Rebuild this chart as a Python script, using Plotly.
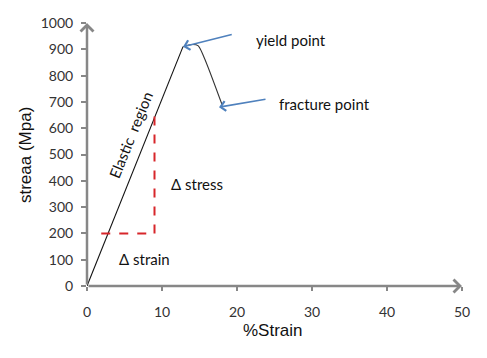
import plotly.graph_objects as go

# Data
elastic_x = [0, 12.8]
elastic_y = [0, 910]
plastic_x = [12.8, 14.0, 14.8, 15.6, 18.0]
plastic_y = [910, 918, 914, 870, 690]
dstrain_x = [1.9, 9.0]
dstrain_y = [200, 200]
dstress_x = [9.0, 9.0]
dstress_y = [200, 665]
x_ticks = [0, 10, 20, 30, 40, 50]
y_ticks = [0, 100, 200, 300, 400, 500, 600, 700, 800, 900, 1000]
yield_pt = (12.8, 910)
fracture_pt = (17.6, 680)

FONT = "Lato"
TFONT = "Liberation Sans"
AXIS_C = "#878787"
BLUE = "#4F81BD"
RED = "#D7262B"

fig = go.Figure()
fig.add_trace(go.Scatter(x=elastic_x, y=elastic_y, mode="lines",
                         line=dict(color="#111111", width=1.1), showlegend=False))
fig.add_trace(go.Scatter(x=plastic_x, y=plastic_y, mode="lines",
                         line=dict(color="#333333", width=1.1, shape="spline", smoothing=0.8),
                         showlegend=False))
fig.add_trace(go.Scatter(x=dstrain_x, y=dstrain_y, mode="lines",
                         line=dict(color=RED, width=2, dash="dash"), showlegend=False))
fig.add_trace(go.Scatter(x=dstress_x, y=dstress_y, mode="lines",
                         line=dict(color=RED, width=2, dash="dash"), showlegend=False))

ann = []
# axis arrows
ann.append(dict(x=50, y=0, ax=0, ay=0, xref="x", yref="y", axref="x", ayref="y",
                showarrow=True, arrowhead=4, arrowsize=1, arrowwidth=2.5,
                arrowcolor=AXIS_C, text=""))
ann.append(dict(x=0, y=1000, ax=0, ay=0, xref="x", yref="y", axref="x", ayref="y",
                showarrow=True, arrowhead=4, arrowsize=1, arrowwidth=2.5,
                arrowcolor=AXIS_C, text=""))
# blue callout arrows
ann.append(dict(x=yield_pt[0], y=yield_pt[1], ax=19.5, ay=958, xref="x", yref="y",
                axref="x", ayref="y", showarrow=True, arrowhead=4, arrowsize=1.2,
                arrowwidth=1.6, arrowcolor=BLUE, text=""))
ann.append(dict(x=fracture_pt[0], y=fracture_pt[1], ax=24.0, ay=711, xref="x", yref="y",
                axref="x", ayref="y", showarrow=True, arrowhead=4, arrowsize=1.2,
                arrowwidth=1.6, arrowcolor=BLUE, text=""))
# texts
ann.append(dict(x=22.3, y=935, xref="x", yref="y", text="yield point", showarrow=False,
                xanchor="left", font=dict(family=FONT, size=15, color="#111111")))
ann.append(dict(x=25.3, y=692, xref="x", yref="y", text="fracture point", showarrow=False,
                xanchor="left", font=dict(family=FONT, size=15, color="#111111")))
ann.append(dict(x=5.8, y=574, xref="x", yref="y", text="Elastic  region", showarrow=False,
                textangle=-68, font=dict(family=FONT, size=15, color="#111111")))
ann.append(dict(x=14.7, y=388, xref="x", yref="y", text="Δ stress", showarrow=False,
                font=dict(family=FONT, size=15, color="#111111")))
ann.append(dict(x=7.7, y=103, xref="x", yref="y", text="Δ strain", showarrow=False,
                font=dict(family=FONT, size=15, color="#111111")))
# axis titles
ann.append(dict(x=0, y=0.498, xref="paper", yref="paper", text="streaa (Mpa)",
                showarrow=False, textangle=-90, xanchor="center", yanchor="middle",
                xshift=-62, font=dict(family=TFONT, size=17, color="#111111")))
ann.append(dict(x=0.496, y=0, xref="paper", yref="paper", text="%Strain",
                showarrow=False, xanchor="center", yanchor="middle",
                yshift=-44, font=dict(family=TFONT, size=17, color="#111111")))

# the page body has an 8px default margin; size the figure to sit inside the window
fig.update_layout(
    width=479, height=342,
    margin=dict(l=79, r=25, t=15, b=64),
    paper_bgcolor="white", plot_bgcolor="white",
    showlegend=False,
    annotations=ann,
    font=dict(family=FONT),
)
fig.update_xaxes(range=[0, 50], tickvals=x_ticks, ticktext=[str(v) for v in x_ticks],
                 showgrid=False, zeroline=False, showline=False, automargin=False,
                 ticks="outside", ticklen=4, tickwidth=2, tickcolor=AXIS_C,
                 ticklabelstandoff=9,
                 tickfont=dict(family=FONT, size=14, color="#333333"))
fig.update_yaxes(range=[0, 1000], tickvals=y_ticks, ticktext=[str(v) for v in y_ticks],
                 showgrid=False, zeroline=False, showline=False, automargin=False,
                 ticks="outside", ticklen=5, tickwidth=2, tickcolor=AXIS_C,
                 ticklabelstandoff=5,
                 tickfont=dict(family=FONT, size=14, color="#333333"))

fig.write_html("out.html")
